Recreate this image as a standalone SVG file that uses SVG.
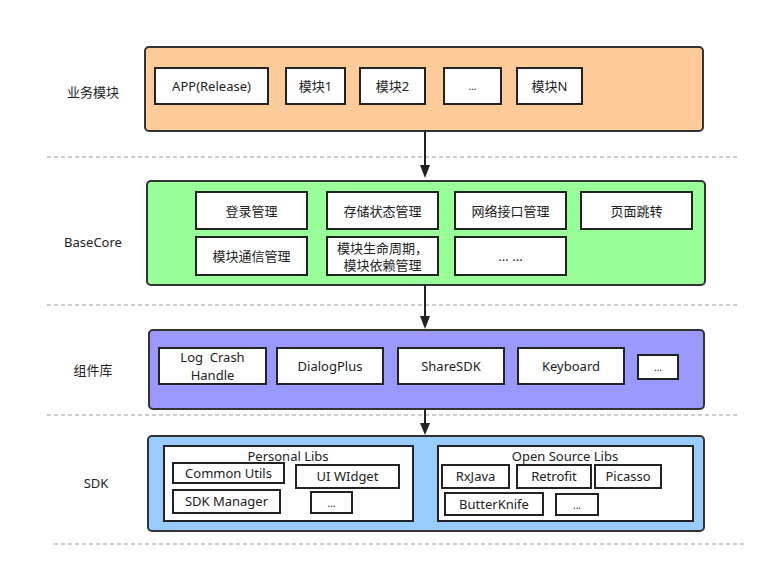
<svg xmlns="http://www.w3.org/2000/svg" width="777" height="587" viewBox="0 0 777 587">
<style>
text{font-family:"Noto Sans","Noto Sans CJK SC",sans-serif;font-size:13px;fill:#222;text-anchor:middle;dominant-baseline:central}
.layer{stroke:#333;stroke-width:2}
.b{fill:#fff;stroke:#222;stroke-width:2}
.dash{stroke:#999;stroke-width:1;stroke-dasharray:4 3;fill:none}
.conn{stroke:#222;stroke-width:2;fill:none}
.head{fill:#222}
.sm{font-size:10px}
</style>
<g id="separators">
<line class="dash" x1="47" y1="157" x2="739" y2="157"/>
<line class="dash" x1="47" y1="305" x2="739" y2="305"/>
<line class="dash" x1="47" y1="415" x2="739" y2="415"/>
<line class="dash" x1="54" y1="544" x2="746" y2="544"/>
</g>
<g id="labels">
<text x="93" y="92">业务模块</text>
<text x="93" y="242">BaseCore</text>
<text x="93" y="370">组件库</text>
<text x="96" y="483">SDK</text>
</g>
<g id="layer-business">
<rect class="layer" x="145" y="47" width="558" height="84" rx="4" fill="#FFCC99"/>
<g id="app"><rect class="b" x="155" y="68" width="113" height="36"/><text x="211.5" y="86">APP(Release)</text></g>
<g id="mod1"><rect class="b" x="286" y="68" width="59" height="36"/><text x="315.5" y="86">模块1</text></g>
<g id="mod2"><rect class="b" x="360" y="68" width="65" height="36"/><text x="392.5" y="86">模块2</text></g>
<g id="modx"><rect class="b" x="444" y="68" width="57" height="36"/><text x="472.5" y="86" class="sm">...</text></g>
<g id="modn"><rect class="b" x="517" y="68" width="65" height="36"/><text x="549.5" y="86">模块N</text></g>
</g>
<g id="layer-basecore">
<rect class="layer" x="147" y="181" width="558" height="104" rx="4" fill="#99FF99"/>
<g id="login"><rect class="b" x="196" y="192" width="111" height="37"/><text x="251.5" y="210.5">登录管理</text></g>
<g id="storage"><rect class="b" x="327" y="192" width="111" height="37"/><text x="382.5" y="210.5">存储状态管理</text></g>
<g id="network"><rect class="b" x="455" y="192" width="111" height="37"/><text x="510.5" y="210.5">网络接口管理</text></g>
<g id="page"><rect class="b" x="581" y="192" width="111" height="37"/><text x="636.5" y="210.5">页面跳转</text></g>
<g id="comm"><rect class="b" x="196" y="237" width="111" height="38"/><text x="251.5" y="256">模块通信管理</text></g>
<g id="life"><rect class="b" x="327" y="237" width="111" height="38"/><text x="382.5" y="247.5">模块生命周期，</text><text x="382.5" y="265">模块依赖管理</text></g>
<g id="morecore"><rect class="b" x="455" y="237" width="111" height="38"/><text x="510.5" y="256">... ...</text></g>
</g>
<g id="layer-components">
<rect class="layer" x="149" y="330" width="555" height="79" rx="4" fill="#9999FF"/>
<g id="logcrash"><rect class="b" x="159" y="348" width="107" height="36"/><text x="212.5" y="357" xml:space="preserve">Log  Crash</text><text x="212.5" y="375">Handle</text></g>
<g id="dialogplus"><rect class="b" x="277" y="348" width="106" height="36"/><text x="330" y="366">DialogPlus</text></g>
<g id="sharesdk"><rect class="b" x="398" y="348" width="106" height="36"/><text x="451" y="366">ShareSDK</text></g>
<g id="keyboard"><rect class="b" x="518" y="348" width="106" height="36"/><text x="571" y="366">Keyboard</text></g>
<g id="morecomp"><rect class="b" x="638" y="355" width="40" height="24"/><text x="658" y="367" class="sm">...</text></g>
</g>
<g id="layer-sdk">
<rect class="layer" x="148" y="436" width="556" height="95" rx="4" fill="#99CCFF"/>
<g id="personal"><rect class="b" x="164" y="446" width="249" height="75"/><text x="288" y="456">Personal Libs</text>
<g id="commonutils"><rect class="b" x="173" y="463" width="111" height="20"/><text x="228.5" y="473">Common Utils</text></g>
<g id="uiwidget"><rect class="b" x="296" y="465" width="103" height="23"/><text x="347.5" y="476">UI WIdget</text></g>
<g id="sdkmanager"><rect class="b" x="173" y="490" width="107" height="23"/><text x="226.5" y="501">SDK Manager</text></g>
<g id="morepersonal"><rect class="b" x="311" y="492" width="41" height="21"/><text x="331.5" y="503" class="sm">...</text></g>
</g>
<g id="opensource"><rect class="b" x="438" y="446" width="255" height="75"/><text x="565" y="456">Open Source Libs</text>
<g id="rxjava"><rect class="b" x="442" y="465" width="67" height="23"/><text x="475.5" y="476">RxJava</text></g>
<g id="retrofit"><rect class="b" x="517" y="465" width="74" height="23"/><text x="554" y="476">Retrofit</text></g>
<g id="picasso"><rect class="b" x="595" y="465" width="66" height="23"/><text x="628" y="476">Picasso</text></g>
<g id="butterknife"><rect class="b" x="445" y="493" width="98" height="22"/><text x="494" y="504">ButterKnife</text></g>
<g id="moreopen"><rect class="b" x="556" y="494" width="42" height="21"/><text x="577" y="505" class="sm">...</text></g>
</g>
</g>
<g id="connectors">
<line class="conn" x1="425" y1="131" x2="425" y2="168"/>
<path class="head" d="M420,165 L430,165 L425,178 Z"/>
<line class="conn" x1="425" y1="285" x2="425" y2="318"/>
<path class="head" d="M420,316 L430,316 L425,329 Z"/>
<line class="conn" x1="425" y1="409" x2="425" y2="426"/>
<path class="head" d="M420,423 L430,423 L425,435 Z"/>
</g>
</svg>
